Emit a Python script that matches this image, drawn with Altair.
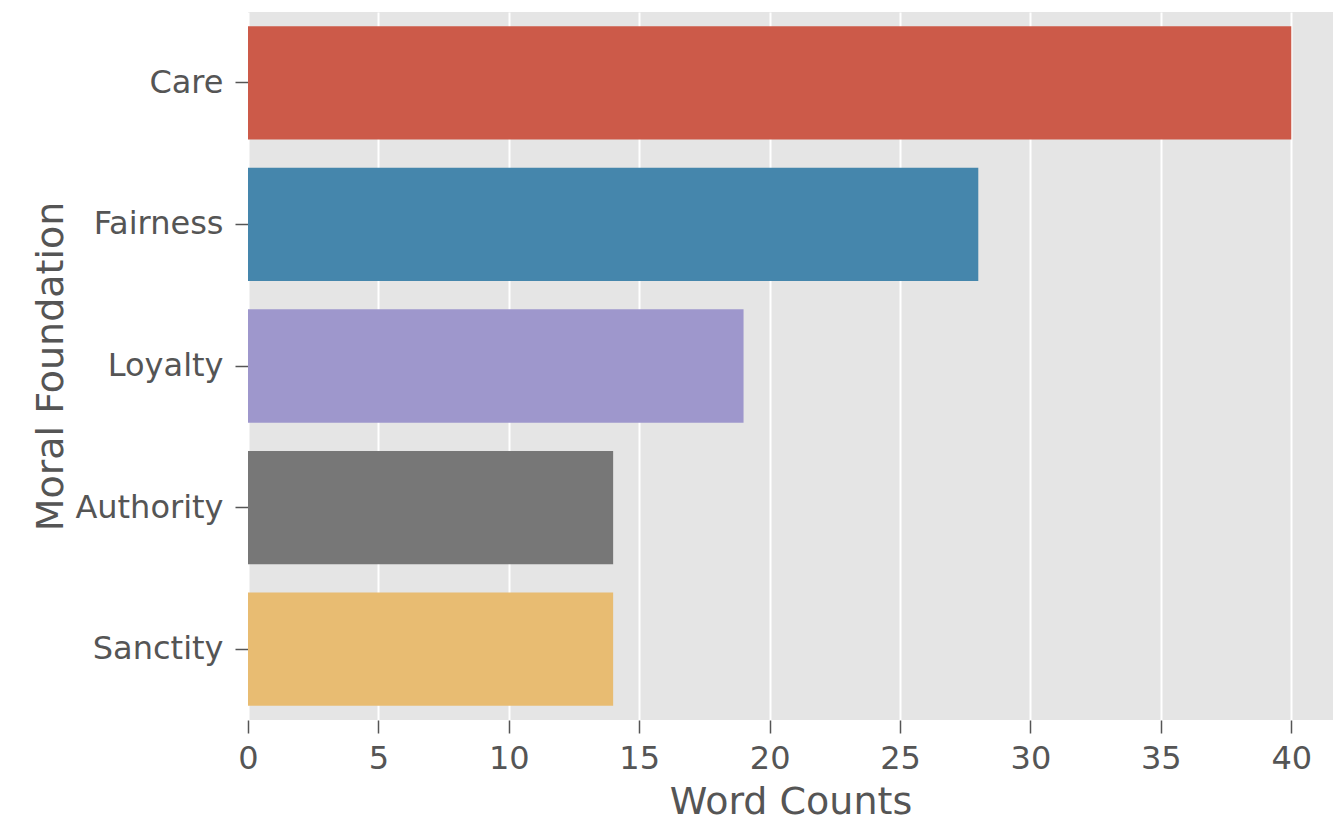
import altair as alt
import pandas as pd

foundations = ["Care", "Fairness", "Loyalty", "Authority", "Sanctity"]
counts = [40, 28, 19, 14, 14]
colors = ["#CC5A49", "#4586AC", "#9E97CC", "#777777", "#E8BC72"]

df = pd.DataFrame({"Moral Foundation": foundations, "Word Counts": counts})

chart = (
    alt.Chart(df)
    .mark_bar()
    .encode(
        x=alt.X(
            "Word Counts:Q",
            scale=alt.Scale(domain=[0, 41.6], nice=False, zero=True),
            axis=alt.Axis(values=[0, 5, 10, 15, 20, 25, 30, 35, 40], title="Word Counts",
                          labelFlush=False, labelPadding=10, titlePadding=9),
        ),
        y=alt.Y(
            "Moral Foundation:N",
            sort=foundations,
            scale=alt.Scale(paddingInner=0.2, paddingOuter=0.1),
            axis=alt.Axis(title="Moral Foundation", grid=False, labelPadding=12, titlePadding=4),
        ),
        color=alt.Color(
            "Moral Foundation:N",
            scale=alt.Scale(domain=foundations, range=colors),
            legend=None,
        ),
    )
    .properties(
        width=1085,
        height=708,
        autosize=alt.AutoSizeParams(type="none"),
        padding={"left": 240, "top": 4, "right": 0, "bottom": 101},
    )
    .configure_view(fill="#E5E5E5", stroke=None)
    .configure_axis(
        domain=False,
        gridColor="#FFFFFF",
        gridWidth=2,
        tickColor="#555555",
        tickSize=13,
        tickWidth=1.5,
        labelFont="DejaVu Sans",
        labelFontSize=32,
        labelColor="#555555",
        titleFont="DejaVu Sans",
        titleFontSize=38,
        titleFontWeight="normal",
        titleColor="#555555",
    )
)

chart.save("out.html", embed_options={"renderer": "svg", "actions": False})
